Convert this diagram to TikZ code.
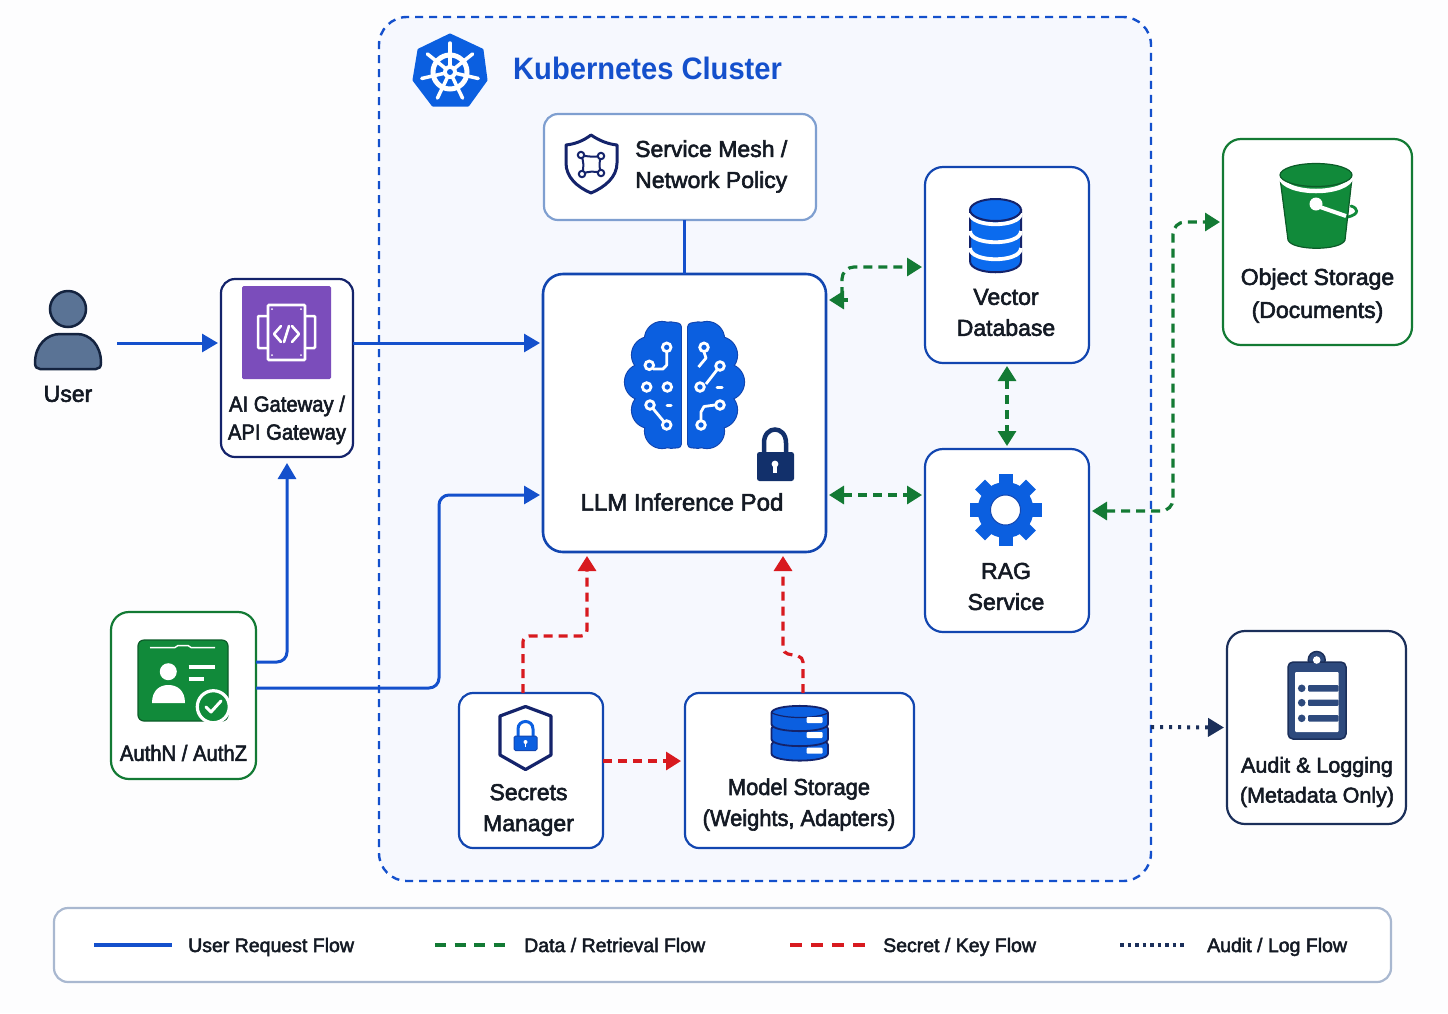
\documentclass[tikz,border=0pt]{standalone}
\usepackage{fontspec}
\setmainfont{Liberation Sans}
\newfontfamily\medf[FakeBold=2.5]{Liberation Sans}
\newfontfamily\medn[FakeBold=2.5,FakeStretch=0.92]{Liberation Sans}
\newfontfamily\medm[FakeBold=2.5,FakeStretch=0.95]{Liberation Sans}
\newfontfamily\titlef[FakeStretch=0.94]{Liberation Sans}
\usetikzlibrary{arrows.meta,calc}
\definecolor{kblue}{HTML}{0B5FE0}
\definecolor{dbblue}{HTML}{0B6BEE}
\definecolor{lineblue}{HTML}{1450CC}
\definecolor{boxblue}{HTML}{1246B0}
\definecolor{navy}{HTML}{14236B}
\definecolor{deepnavy}{HTML}{12306B}
\definecolor{gfill}{HTML}{118A3A}
\definecolor{gline}{HTML}{137A34}
\definecolor{gdark}{HTML}{0C5B28}
\definecolor{redl}{HTML}{D81A1F}
\definecolor{purp}{HTML}{7B4DBB}
\definecolor{ink}{HTML}{141A24}
\definecolor{slate}{HTML}{5A7395}
\definecolor{slated}{HTML}{14233F}
\definecolor{audf}{HTML}{2E4A7D}
\definecolor{audd}{HTML}{1B2F5A}
\definecolor{meshb}{HTML}{7F9FD0}
\definecolor{legb}{HTML}{A9B8D0}
\definecolor{clusterf}{HTML}{F6F8FE}
\definecolor{bgc}{HTML}{FDFDFE}
\tikzset{
 x=1pt,y=-1pt,
 boxn/.style={draw,fill=white,rounded corners=#1,inner sep=0pt,outer sep=0pt,line width=2.2pt},
 boxn/.default=14pt,
 txt/.style={font=\medf\fontsize{23}{31}\selectfont,text=ink,align=center,inner sep=0pt},
 legt/.style={font=\medf\fontsize{19.5}{24}\selectfont,text=ink,anchor=base west,inner sep=0pt},
 tipb/.tip={Triangle[length=16pt,width=18pt]},
 tipg/.tip={Triangle[length=15pt,width=18pt]},
 tipa/.tip={Triangle[length=16pt,width=18pt]},
 flowuser/.style={draw=lineblue,line width=3pt,-{tipb},shorten >=3pt},
 flowdata/.style={draw=gline,line width=3.2pt,dash pattern=on 9pt off 6pt,{tipg}-{tipg},shorten >=3pt,shorten <=3pt},
 flowsecret/.style={draw=redl,line width=3.2pt,dash pattern=on 9pt off 6pt,-{tipg[fill=redl]},shorten >=4pt},
 flowaudit/.style={draw=audd,line width=4pt,dash pattern=on 3pt off 6pt,-{tipa},shorten >=3pt},
 ring/.style={draw=white,line width=2.8pt,fill=kblue},
}
\begin{document}
\begin{tikzpicture}
\useasboundingbox (0,0) rectangle (1448,1013);
\fill[bgc] (0,0) rectangle (1448,1013);

% Containers and boxes
\node[boxn=28pt,draw=lineblue,fill=clusterf,line width=2.4pt,dash pattern=on 8pt off 6pt,minimum width=772pt,minimum height=864pt] (cluster) at (765,449) {};
\node[boxn=14pt,draw=meshb,minimum width=272pt,minimum height=106pt] (mesh) at (680,167) {};
\node[boxn=20pt,draw=boxblue,line width=2.6pt,minimum width=283pt,minimum height=278pt] (pod) at (684.5,413) {};
\node[boxn=18pt,draw=boxblue,minimum width=164pt,minimum height=196pt] (vector) at (1007,265) {};
\node[boxn=18pt,draw=boxblue,minimum width=164pt,minimum height=183pt] (rag) at (1007,540.5) {};
\node[boxn=18pt,draw=gline,minimum width=189pt,minimum height=206pt] (obj) at (1317.5,242) {};
\node[boxn=18pt,draw=audd,minimum width=179pt,minimum height=193pt] (audit) at (1316.5,727.5) {};
\node[boxn=14pt,draw=navy,minimum width=132pt,minimum height=178pt] (gw) at (287,368) {};
\node[boxn=18pt,draw=gline,minimum width=145pt,minimum height=167pt] (auth) at (183.5,695.5) {};
\node[boxn=14pt,draw=boxblue,minimum width=144pt,minimum height=155pt] (secrets) at (531,770.5) {};
\node[boxn=14pt,draw=boxblue,minimum width=229pt,minimum height=155pt] (model) at (799.5,770.5) {};
\node[boxn=14pt,draw=legb,minimum width=1337pt,minimum height=74pt] (legend) at (722.5,945) {};

% Kubernetes icon
\filldraw[kblue,line width=3pt,line join=round] (450,35)--(482,50)--(486,80)--(468,105)--(433,105)--(414,80)--(419,50)--cycle;
\draw[white,line width=5pt] (450,72) circle[radius=17];
\foreach \a in {90,141.4,192.9,244.3,295.7,347.1,38.6}
 \draw[white,line width=3.5pt,line cap=round] ({450+5*cos(\a)},{72-5*sin(\a)})--({450+29*cos(\a)},{72-29*sin(\a)});
\fill[white] (450,72) circle[radius=7];
\fill[kblue] (450,72) circle[radius=3];
\node[font=\titlef\bfseries\fontsize{31}{36}\selectfont,text=lineblue,anchor=west,inner sep=0pt] (ktitle) at (513,68) {Kubernetes Cluster};

% Service mesh
\filldraw[fill=white,draw=navy,line width=3pt,line join=round] (591,135) .. controls (600,141) and (608,144) .. (617,145) -- (617,163) .. controls (617,177) and (605,187) .. (591,193) .. controls (577,187) and (566,177) .. (566,163) -- (566,145) .. controls (575,144) and (583,141) .. (591,135) -- cycle;
\draw[navy,line width=2pt] (581,155) .. controls (588,157) and (595,157) .. (601,156) .. controls (599,162) and (599,168) .. (601,173) .. controls (595,171) and (588,171) .. (582,174) .. controls (584,168) and (584,161) .. (581,155) -- cycle;
\foreach \p in {(581,155),(601,156),(582,174),(601,173)}
 \filldraw[fill=white,draw=navy,line width=2pt] \p circle[radius=3.2];
\node[txt,align=left,anchor=west] (tmesh) at (635,166.5) {Service Mesh /\\Network Policy};

% User
\filldraw[fill=slate,draw=slated,line width=2.5pt] (68,309) circle[radius=18];
\filldraw[fill=slate,draw=slated,line width=2.5pt,line join=round] (35,363) .. controls (35,345) and (47,334) .. (60,334) -- (77,334) .. controls (90,334) and (101,345) .. (101,363) .. controls (101,367) and (99,369) .. (96,369) -- (40,369) .. controls (37,369) and (35,367) .. (35,363) -- cycle;
\node[txt] (tuser) at (68,394) {User};
\coordinate (userport) at (117,343);

% Gateway icon
\fill[purp,rounded corners=1.5pt] (242,286) rectangle (331,379);
\draw[white,line width=2.5pt,rounded corners=1pt] (268,316)--(258,316)--(258,348)--(268,348);
\draw[white,line width=2.5pt,rounded corners=1pt] (305,316)--(315,316)--(315,348)--(305,348);
\draw[white,line width=2.6pt,rounded corners=1pt] (268,305) rectangle (305,360);
\draw[white,line width=2.6pt,line cap=round,line join=round] (281,326)--(274,334)--(281,342);
\draw[white,line width=2.6pt,line cap=round,line join=round] (292,326)--(299,334)--(292,342);
\draw[white,line width=2.6pt,line cap=round] (284,342)--(289,326);
\foreach \p in {(272,309),(301,309),(272,355),(301,355)} \fill[white] \p circle[radius=1];
\node[txt,font=\medn\fontsize{22}{28}\selectfont] (tgw) at (287,420) {AI Gateway /\\API Gateway};

% Brain
\foreach \x in {0,1} {
 \foreach \cx/\cy/\r in {662/339/17,650/355/18,643/382/18,650/410/18,662/431/17} {
  \pgfmathsetmacro{\xx}{\x==0 ? \cx : 1369-\cx}
  \draw[boxblue,line width=2.2pt,fill=boxblue] (\xx,\cy) circle[radius=\r];
 }
 \pgfmathsetmacro{\xa}{\x==0 ? 680.8 : 688.2}
 \pgfmathsetmacro{\xb}{\x==0 ? 668 : 701}
 \pgfmathsetmacro{\xc}{\x==0 ? 640 : 729}
 \draw[boxblue,line width=2.2pt,fill=boxblue,rounded corners=3pt] (\xb,322) -- (\xa,324) -- (\xa,447) -- (\xb,448) -- (\xc,420) -- (\xc,345) -- cycle;
}
\foreach \x in {0,1} {
 \foreach \cx/\cy/\r in {662/339/17,650/355/18,643/382/18,650/410/18,662/431/17} {
  \pgfmathsetmacro{\xx}{\x==0 ? \cx : 1369-\cx}
  \fill[kblue] (\xx,\cy) circle[radius=\r];
 }
 \pgfmathsetmacro{\xa}{\x==0 ? 680.8 : 688.2}
 \pgfmathsetmacro{\xb}{\x==0 ? 668 : 701}
 \pgfmathsetmacro{\xc}{\x==0 ? 640 : 729}
 \fill[kblue,rounded corners=3pt] (\xb,322) -- (\xa,324) -- (\xa,447) -- (\xb,448) -- (\xc,420) -- (\xc,345) -- cycle;
}
\draw[white,line width=2.8pt,line join=round] (666.7,352)--(666.7,365)--(663,369)--(653,369);
\draw[white,line width=2.8pt,line join=round] (650,405)--(666.7,425);
\draw[white,line width=2.8pt,line join=round] (704,352)--(706,358)--(698.5,367);
\draw[white,line width=2.8pt,line join=round] (720,366)--(706,384);
\draw[white,line width=2.8pt,line join=round] (715,405)--(704,406.5)--(701,412)--(701,425);
\draw[white,line width=3pt,line cap=round] (667,405.3)--(671,405.3);
\draw[white,line width=3pt,line cap=round] (717,387)--(722,387);
\foreach \p in {(666.7,347.3),(649.3,365.3),(646.7,387),(667.3,387),(650,405),(666.7,425),(704,347.3),(720,366),(700,387),(720,405),(701,425)}
 \filldraw[ring] \p circle[radius=4.3];
% Lock
\draw[deepnavy,line width=4.5pt] (764,454)--(764,443) .. controls (764,425) and (786,425) .. (786,443) -- (786,454);
\fill[deepnavy,rounded corners=2.5pt] (757,452) rectangle (794,481);
\fill[white] (775,464) circle[radius=3.4];
\fill[white] (773.3,465) rectangle (776.7,473);
\node[txt,font=\medf\fontsize{24}{30}\selectfont] (tpod) at (682,502) {LLM Inference Pod};

% Vector database icon
\filldraw[fill=dbblue,draw=navy,line width=2pt] (970,210) -- (970,261) .. controls (970,276) and (1021,276) .. (1021,261) -- (1021,210) -- cycle;
\foreach \yy in {213,231,248}
 \draw[white,line width=3.8pt] (970,\yy) .. controls (970,\yy+15) and (1021,\yy+15) .. (1021,\yy);
\filldraw[fill=dbblue,draw=navy,line width=2pt] (995.5,210) ellipse[x radius=25.5,y radius=11];
\node[txt] (tvector) at (1006,312.5) {Vector\\Database};

% RAG gear
\foreach \a in {0,45,...,315}
 \draw[kblue,line width=14pt] ({1005.5+22*cos(\a)},{510+22*sin(\a)})--({1005.5+36*cos(\a)},{510+36*sin(\a)});
\fill[kblue] (1005.5,510) circle[radius=28];
\filldraw[fill=white,draw=boxblue,line width=1pt] (1005.5,510) circle[radius=15];
\node[txt] (trag) at (1006,586.5) {RAG\\Service};

% Object storage icon
\draw[gfill,line width=2.8pt,line cap=round] (1351,206) .. controls (1358,208) and (1360,214) .. (1348,217);
\filldraw[fill=gfill,draw=gdark,line width=1.2pt,line join=round] (1280,178) -- (1288,240) .. controls (1292,251) and (1341,251) .. (1345,240) -- (1352,178) -- cycle;
\draw[white,line width=4.5pt] (1280,176) .. controls (1283,196) and (1349,196) .. (1352,176);
\filldraw[fill=gfill,draw=gdark,line width=1.2pt] (1316,175) ellipse[x radius=36,y radius=11.5];
\draw[white,line width=4pt] (1320,207) -- (1346,216);
\fill[white] (1316,204) circle[radius=6.5];
\node[txt,font=\medf\fontsize{23}{33}\selectfont] (tobj) at (1317.5,295.5) {Object Storage\\(Documents)};

% Audit icon
\filldraw[fill=audf,draw=audd,line width=1.5pt] (1316.7,660) circle[radius=8.5];
\filldraw[fill=audf,draw=audd,line width=1.5pt,rounded corners=5pt] (1288,662) rectangle (1346,739);
\fill[white] (1316.7,660) circle[radius=3.8];
\fill[white,rounded corners=1pt] (1295,672) rectangle (1338.5,732);
\foreach \yy in {688.3,702.7,718.3} {
 \fill[audf] (1301.7,\yy) circle[radius=3.8];
 \fill[audf,rounded corners=1pt] (1308,\yy-3.2) rectangle (1338.5,\yy+3.2);
}
\node[txt,font=\medf\fontsize{21.5}{30}\selectfont] (taudit) at (1317,782) {Audit \& Logging\\(Metadata Only)};

% Auth icon
\filldraw[fill=gfill,draw=gdark,line width=1.2pt,rounded corners=6pt] (138,640) rectangle (228,721);
\draw[white,line width=1.5pt] (150,647.7)--(175,647.5)--(178,645.5)--(188,645.5)--(191,647.5)--(215,647.7);
\fill[white] (168.3,671.7) circle[radius=8.5];
\fill[white] (152,703) .. controls (152,690) and (160,685) .. (168.3,685) .. controls (177,685) and (185,690) .. (185,703) -- cycle;
\draw[white,line width=4.2pt] (188.5,666.7)--(215,666.7);
\draw[white,line width=4.2pt] (188.5,679)--(204,679);
\filldraw[fill=gfill,draw=white,line width=3.2pt] (213.3,706.7) circle[radius=16];
\draw[white,line width=3pt,line cap=round,line join=round] (206,707)--(211,712)--(221,701);
\node[txt,font=\medn\fontsize{22}{28}\selectfont] (tauth) at (183.5,753) {AuthN / AuthZ};

% Secrets icon
\filldraw[fill=white,draw=navy,line width=3.2pt,line join=round] (525.5,706.5)--(551,716)--(551,755)--(525.5,769.5)--(500,755)--(500,716)--cycle;
\draw[kblue,line width=3pt] (518,737)--(518,729) .. controls (518,719) and (533,719) .. (533,729) -- (533,737);
\filldraw[fill=kblue,draw=boxblue,line width=1pt,rounded corners=1.5pt] (514,736) rectangle (537,750.5);
\fill[white] (525.5,742) circle[radius=2];
\fill[white] (524.7,742) rectangle (526.3,747);
\node[txt] (tsecrets) at (528.5,810) {Secrets\\Manager};

% Model storage icon
\foreach \yt/\yb in {738/760.5,722/746,706/731} {
 \filldraw[fill=kblue,draw=navy,line width=1.8pt] (771.5,\yt+7) .. controls (771.5,\yt-2.5) and (828,\yt-2.5) .. (828,\yt+7) -- (828,\yb-7) .. controls (828,\yb+2.5) and (771.5,\yb+2.5) .. (771.5,\yb-7) -- cycle;
}
\draw[navy,line width=1.2pt] (772,713) .. controls (785,719) and (815,719) .. (828,713);
\foreach \yy in {720,735,750.7}
 \fill[white,rounded corners=1pt] (806.7,\yy-3) rectangle (822.7,\yy+3);
\node[txt,font=\medm\fontsize{23}{31}\selectfont] (tmodel) at (799,804.5) {Model Storage\\(Weights, Adapters)};

% Connectors
\draw[flowuser] (userport) -- ([yshift=25pt]gw.west);
\draw[flowuser] ([yshift=25pt]gw.east) -- ([yshift=70pt]pod.west);
\draw[draw=lineblue,line width=3pt] (mesh.south -| pod.north) -- (pod.north);
\draw[flowuser,rounded corners=10pt,shorten >=6pt] ([yshift=33.5pt]auth.east) -| (gw.south);
\coordinate (bendA) at (439,688);
\coordinate (bendB) at (439,495);
\draw[flowuser,rounded corners=10pt] ([yshift=7.5pt]auth.east) -- (bendA) -- (bendB) -- ([yshift=-82pt]pod.west);
\coordinate (sA) at (523,636);
\coordinate (sB) at (587,636);
\draw[flowsecret,rounded corners=6pt] ([xshift=-8pt]secrets.north) -- (sA) -- (sB) -- ([xshift=-97.5pt]pod.south);
\coordinate (mA) at (803,657);
\coordinate (mB) at (783,653);
\draw[flowsecret,rounded corners=5pt] ([xshift=3.5pt]model.north) -- (mA) -- (mB) -- ([xshift=98.5pt]pod.south);
\draw[flowsecret] ([yshift=9.5pt]secrets.east) -- ([yshift=9.5pt]model.west);
\coordinate (vA) at (842,267);
\coordinate (vB) at (842,296);
\coordinate (vC) at (848,300);
\draw[draw=gline,line width=3.2pt,dash pattern=on 9pt off 6pt,-{tipg},shorten >=3pt,rounded corners=12pt] (vB) -- (vA) -- ([yshift=-2pt]vector.west);
\draw[gline,line width=3.2pt,-{tipg},shorten >=3pt] (vC) -- ([yshift=113pt]pod.east);
\draw[flowdata] ([yshift=-82pt]pod.east) -- ([yshift=-82pt]pod.east -| rag.west);
\draw[flowdata] (vector.south) -- (rag.north);
\coordinate (oA) at (1173,511);
\coordinate (oB) at (1173,222);
\draw[flowdata,rounded corners=12pt] ([yshift=29.5pt]rag.east) -- (oA) -- (oB) -- ([yshift=20pt]obj.west);
\draw[flowaudit] ([yshift=-278pt]cluster.east) -- (audit.west);

% Legend
\coordinate (la1) at (94,945); \coordinate (la2) at (172,945);
\coordinate (lb1) at (435,945); \coordinate (lb2) at (506,945);
\coordinate (lc1) at (790,945); \coordinate (lc2) at (866,945);
\coordinate (ld1) at (1120,945); \coordinate (ld2) at (1187,945);
\draw[lineblue,line width=3.5pt] (la1) -- (la2);
\draw[gline,line width=3.5pt,dash pattern=on 11pt off 8.5pt] (lb1) -- (lb2);
\draw[redl,line width=3.5pt,dash pattern=on 12pt off 9pt] (lc1) -- (lc2);
\draw[audd,line width=3.2pt,dash pattern=on 3.5pt off 4pt] (ld1) -- (ld2);
\node[legt] (l1) at (188,952) {User Request Flow};
\node[legt] (l2) at (524,952) {Data / Retrieval Flow};
\node[legt] (l3) at (883,952) {Secret / Key Flow};
\node[legt] (l4) at (1207,952) {Audit / Log Flow};
\end{tikzpicture}
\end{document}
